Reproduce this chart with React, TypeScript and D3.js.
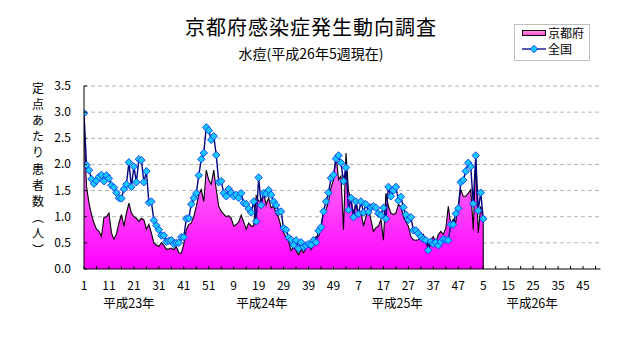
import React from "react";
import * as d3 from "d3";

const kyoto: number[] = [
  2.7, 1.58, 1.26, 1.04, 0.88, 0.76, 0.72, 0.62, 0.99, 1.0,
  1.07, 0.69, 0.57, 0.67, 0.88, 1.04, 0.82, 1.07, 1.26, 1.07,
  1.0, 0.97, 0.91, 0.97, 0.94, 0.76, 0.85, 0.69, 0.5, 0.46,
  0.43, 0.5, 0.45, 0.38, 0.38, 0.4, 0.37, 0.43, 0.31, 0.3,
  0.48, 0.75, 0.85, 0.88, 1.0, 1.2, 1.42, 1.52, 1.29, 1.89,
  1.7, 1.62, 1.89, 1.52, 1.2, 1.1, 1.05, 1.0, 1.02, 0.97,
  0.82, 0.85, 0.9, 1.03, 0.9, 0.76, 0.88, 0.82, 0.82, 1.4,
  1.3, 1.3, 1.45, 1.23, 1.36, 1.17, 1.2, 1.07, 0.98, 0.8,
  0.7, 0.6, 0.53, 0.35, 0.43, 0.35, 0.27, 0.37, 0.31, 0.4,
  0.46, 0.37, 0.45, 0.62, 0.62, 0.82, 1.1, 1.13, 1.3, 1.55,
  1.71, 2.2, 1.71, 1.78, 0.75, 2.22, 1.5, 1.3, 1.07, 1.26,
  1.0, 1.1, 0.82, 1.0, 1.17, 0.94, 0.72, 0.79, 0.82, 0.95,
  0.55, 1.45, 1.2, 1.07, 1.04, 1.07, 1.23, 1.2, 1.0, 0.91,
  0.82, 0.62, 0.56, 0.55, 0.56, 0.62, 0.66, 0.55, 0.46, 0.56,
  0.62, 0.5, 0.66, 0.72, 0.66, 0.78, 1.2, 0.85, 0.95, 0.9,
  1.2, 1.52, 1.39, 1.39, 1.45, 1.52, 0.75, 2.09, 0.69, 1.2,
  0.95,
];

const national: number[] = [
  2.98, 1.99, 1.89, 1.72, 1.63, 1.69, 1.76, 1.8, 1.68, 1.79,
  1.73, 1.6, 1.56, 1.46, 1.36, 1.35, 1.53, 1.62, 2.04, 1.57,
  1.96, 1.66, 2.1, 2.08, 1.66, 1.87, 1.27, 1.29, 0.93, 0.83,
  0.75, 0.64, 0.64, 0.52, 0.54, 0.55, 0.48, 0.5, 0.5, 0.61,
  0.61, 0.96, 0.97, 1.24, 1.36, 1.45, 1.79, 2.1, 2.22, 2.71,
  2.65, 2.47, 2.54, 2.18, 1.66, 1.68, 1.45, 1.39, 1.53, 1.46,
  1.39, 1.42, 1.36, 1.45, 1.26, 1.24, 1.15, 1.08, 1.29, 0.91,
  1.75, 1.22, 1.45, 1.44, 1.51, 1.42, 1.29, 1.22, 1.09, 1.1,
  0.78, 0.75, 0.6, 0.56, 0.46, 0.55, 0.39, 0.51, 0.42, 0.45,
  0.48, 0.46, 0.55, 0.51, 0.73, 0.8, 1.1, 1.29, 1.46, 1.74,
  1.8, 2.11, 2.17, 2.03, 1.68, 1.94, 1.13, 1.36, 0.99, 1.29,
  1.05, 1.29, 1.08, 1.24, 1.09, 1.18, 1.2, 1.17, 1.06, 1.03,
  1.17, 0.96, 1.57, 1.39, 1.5, 1.57, 1.31, 1.38, 1.18, 1.04,
  0.94, 0.99, 0.74, 0.74, 0.68, 0.62, 0.57, 0.55, 0.36, 0.52,
  0.48, 0.51, 0.45, 0.52, 0.57, 0.56, 0.55, 0.85, 0.85, 1.06,
  1.16, 1.66, 1.7, 1.87, 2.03, 1.96, 1.25, 2.17, 1.12, 1.46,
  0.96,
];

const xTickLabels: string[] = [
  "1", "11", "21", "31", "41", "51", "9", "19", "29", "39", "49",
  "7", "17", "27", "37", "47", "5", "15", "25", "35", "45",
];
const xTickIndex: number[] = [
  0, 10, 20, 30, 40, 50, 60, 70, 80, 90, 100,
  110, 120, 130, 140, 150, 160, 170, 180, 190, 200,
];
const yearLabels: string[] = ["平成23年", "平成24年", "平成25年", "平成26年"];
const yearLabelIndex: number[] = [18, 71.3, 125.5, 179.6];
const yTicks: number[] = [0, 0.5, 1, 1.5, 2, 2.5, 3, 3.5];
const nCategories = 208;

const title = "京都府感染症発生動向調査";
const subtitle = "水痘(平成26年5週現在)";
const yTitleChars: string[] = ["定", "点", "あ", "た", "り", "患", "者", "数", "︵", "人", "︶"];
const legendNames: string[] = ["京都府", "全国"];

const FONT = "'Noto Sans CJK JP', 'Noto Sans', sans-serif";

export default function App() {
  const W = 632;
  const H = 348;
  const left = 84;
  const right = 600.5;
  const top = 86;
  const bottom = 269;

  const x = d3.scaleLinear().domain([0, nCategories - 1]).range([left, right]);
  const y = d3.scaleLinear().domain([0, 3.5]).range([bottom, top]);

  const area = d3
    .area<number>()
    .x((_, i) => x(i))
    .y0(y(0))
    .y1((d) => y(d));
  const outlinePts: [number, number][] = kyoto.map((v, i) => [x(i), y(v)] as [number, number]);
  outlinePts.push([x(kyoto.length - 1), y(0)]);
  const outline = d3.line()(outlinePts) || "";
  const natLine =
    d3
      .line<number>()
      .x((_, i) => x(i))
      .y((d) => y(d))(national) || "";
  const diamond = d3.symbol(d3.symbolSquare, 28)() || "";

  const minorTicks = d3.range(0, nCategories, 5);

  return (
    <svg
      width={W}
      height={H}
      style={{ position: "absolute", left: 0, top: 0, background: "#fff" }}
      fontFamily={FONT}
    >
      <defs>
        <linearGradient id="pinkGrad" gradientUnits="userSpaceOnUse" x1="0" y1={top} x2="0" y2={bottom}>
          <stop offset="0" stopColor="#ffc6ee" />
          <stop offset="1" stopColor="#ff00ff" />
        </linearGradient>
        <linearGradient id="legGrad" x1="0" y1="0" x2="0" y2="1">
          <stop offset="0" stopColor="#ff99e0" />
          <stop offset="1" stopColor="#ff44d8" />
        </linearGradient>
        <clipPath id="plotClip">
          <rect x={left} y={top - 6} width={right - left + 6} height={bottom - top + 6} />
        </clipPath>
      </defs>
      <rect x={0} y={0} width={W} height={H} fill="#fff" />

      {/* title */}
      <text x={311} y={35} textAnchor="middle" fontSize={20} letterSpacing={1} fill="#000">
        {title}
      </text>
      <text x={311} y={59} textAnchor="middle" fontSize={14} fill="#000">
        {subtitle}
      </text>

      {/* gridlines */}
      {yTicks.slice(1).map((t) => (
        <line
          key={"g" + t}
          x1={left}
          x2={right}
          y1={y(t)}
          y2={y(t)}
          stroke="#b4b4b4"
          strokeDasharray="4 3"
          strokeWidth={1}
        />
      ))}

      {/* kyoto area */}
      <g clipPath="url(#plotClip)">
        <path d={area(kyoto) || ""} fill="url(#pinkGrad)" />
        <path d={outline} fill="none" stroke="#000" strokeWidth={1.1} />
        <path d={natLine} fill="none" stroke="#000080" strokeWidth={1.4} />
        {national.map((v, i) => (
          <path
            key={"m" + i}
            d={diamond}
            transform={`translate(${x(i)},${y(v)}) rotate(45)`}
            fill="#19c6ff"
            stroke="#0033ee"
            strokeWidth={0.8}
          />
        ))}
      </g>

      {/* axes */}
      <line x1={left} x2={left} y1={top} y2={bottom} stroke="#000" />
      <line x1={left} x2={right} y1={bottom} y2={bottom} stroke="#000" />
      {yTicks.map((t) => (
        <g key={"yt" + t}>
          <line x1={left} x2={left + 3} y1={y(t)} y2={y(t)} stroke="#000" />
          <text x={71} y={y(t) + 4} textAnchor="end" fontSize={12} fill="#000">
            {d3.format(".1f")(t)}
          </text>
        </g>
      ))}
      {minorTicks.map((i) => (
        <line key={"xt" + i} x1={x(i)} x2={x(i)} y1={bottom} y2={bottom - 3} stroke="#000" />
      ))}
      {xTickLabels.map((l, k) => (
        <text key={"xl" + k} x={x(xTickIndex[k])} y={290} textAnchor="middle" fontSize={12} fill="#000">
          {l}
        </text>
      ))}
      {yearLabels.map((l, k) => (
        <text key={"yl" + k} x={x(yearLabelIndex[k])} y={308} textAnchor="middle" fontSize={12.5} fill="#000">
          {l}
        </text>
      ))}

      {/* y title */}
      {yTitleChars.map((c, k) => (
        <text key={"yc" + k} x={38} y={88 + k * 16.2 + 4.5} textAnchor="middle" fontSize={12} fill="#000">
          {c}
        </text>
      ))}

      {/* legend */}
      <rect x={514.5} y={24.5} width={75} height={36} fill="#fff" stroke="#bdbdbd" />
      <rect x={522.5} y={30.5} width={23} height={5} fill="url(#legGrad)" stroke="#000" />
      <text x={548} y={37.5} fontSize={12} fill="#000">
        {legendNames[0]}
      </text>
      <line x1={522} x2={546} y1={49} y2={49} stroke="#000080" strokeWidth={1.3} />
      <path d={diamond} transform="translate(534,49) rotate(45)" fill="#19c6ff" stroke="#0033ee" strokeWidth={0.8} />
      <text x={548} y={54} fontSize={12} fill="#000">
        {legendNames[1]}
      </text>
    </svg>
  );
}
